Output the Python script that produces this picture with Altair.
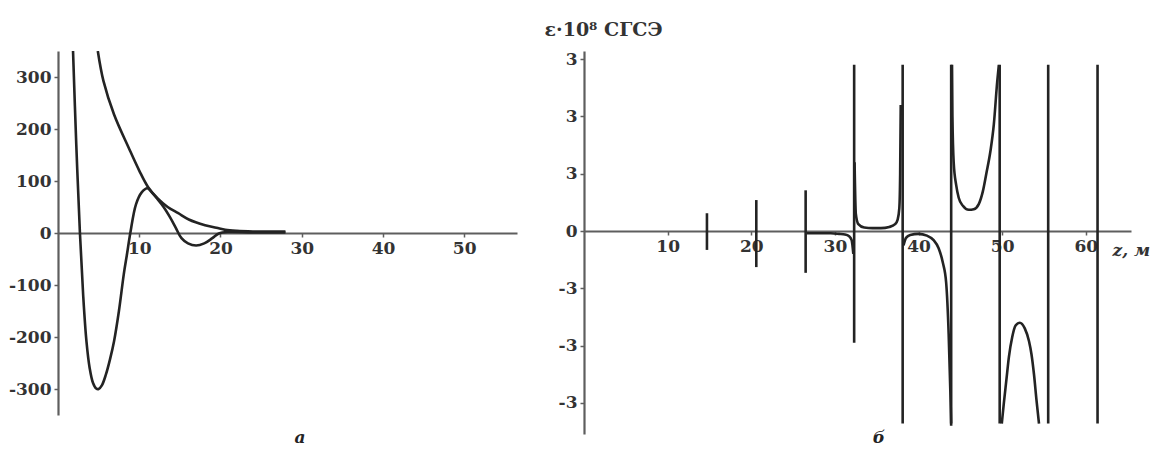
import altair as alt
import pandas as pd

# ---------- panel а ----------
env_z = [4.9, 5.6, 6.9, 8.7, 10.0, 11.1, 12.3, 13.5, 14.8, 16.1, 18.1, 19.5, 20.6, 22.0, 24.0, 28.0]
env_v = [350, 292, 228, 164, 120, 88, 66, 50, 38, 26, 15, 10, 6, 4, 3, 3]

osc_z = [1.85, 2.25, 2.7, 3.1, 3.5, 3.9, 4.3, 4.7, 5.0, 5.4, 5.9, 6.4, 6.9, 7.5, 8.1, 8.5, 8.9, 9.6, 10.3,
         11.0, 11.6, 12.3, 13.0, 13.8, 14.5, 15.2, 16.0, 17.0, 18.0, 19.0, 19.8, 21.0, 24.0, 28.0]
osc_v = [350, 170, 0, -120, -208, -260, -288, -299, -300, -293, -272, -243, -208, -150, -79, -40, 0, 55, 78,
         86, 77, 64, 50, 30, 10, -10, -20, -24, -20, -10, -1, 2, 1, 1]

left_xticks = [10, 20, 30, 40, 50]
left_yticks = [-300, -200, -100, 0, 100, 200, 300]

# ---------- panel б ----------
pole_z = [14.7, 20.6, 26.5, 32.3, 38.1, 43.9, 49.7, 55.5, 61.4]
pole_top = [0.31, 0.54, 0.71, 2.9, 2.9, 2.9, 2.9, 2.9, 2.9]
pole_bottom = [-0.33, -0.63, -0.73, -1.95, -3.36, -3.36, -3.36, -3.36, -3.36]

segA_z = [26.6, 27.5, 28.5, 29.5, 30.5, 31.2, 31.7, 32.0, 32.2]
segA_v = [-0.04, -0.04, -0.04, -0.04, -0.05, -0.06, -0.09, -0.16, -0.4]
segB_z = [32.35, 32.5, 32.8, 33.5, 34.5, 35.5, 36.5, 37.2, 37.5, 37.7, 37.8, 37.87]
segB_v = [1.2, 0.3, 0.12, 0.06, 0.05, 0.05, 0.07, 0.12, 0.2, 0.4, 1.0, 2.2]
segC_z = [38.2, 38.5, 39.0, 40.0, 41.0, 41.8, 42.4, 42.9, 43.3, 43.6, 43.8, 43.9]
segC_v = [-0.25, -0.12, -0.07, -0.05, -0.08, -0.16, -0.3, -0.55, -0.9, -1.8, -2.8, -3.4]
segD_z = [44.0, 44.05, 44.2, 44.5, 44.8, 45.3, 46.0, 46.6, 47.2, 47.7, 48.1, 48.6, 49.0, 49.4, 49.6]
segD_v = [2.9, 2.0, 1.2, 0.8, 0.58, 0.44, 0.37, 0.38, 0.47, 0.7, 1.0, 1.4, 1.86, 2.6, 2.9]
segE_z = [49.95, 50.2, 50.5, 50.8, 51.2, 51.6, 52.1, 52.7, 53.2, 53.5, 53.8, 54.1, 54.4]
segE_v = [-3.36, -3.0, -2.6, -2.2, -1.85, -1.65, -1.6, -1.7, -1.92, -2.15, -2.5, -2.95, -3.36]

right_xticks = [10, 20, 30, 40, 50, 60]
right_yticks = [-3, -2, -1, 0, 1, 2, 3]

captions = ["а", "б"]
y_title = "ε·10⁸  СГСЭ"
x_title = "z, м"

FONT = "DejaVu Serif"
INK = "#232323"
AX = "#5e5e5e"

# ---------- build left ----------
LW, LH = 459, 364
left_df = pd.concat([
    pd.DataFrame({"z": env_z, "v": env_v, "s": "env"}),
    pd.DataFrame({"z": osc_z, "v": osc_v, "s": "osc"}),
])

left_lines = alt.Chart(left_df).mark_line(
    color=INK, strokeWidth=2.6, interpolate="catmull-rom", clip=True
).encode(
    x=alt.X("z:Q", scale=alt.Scale(domain=[0, 56.5], nice=False, zero=False),
            axis=alt.Axis(values=left_xticks, offset=-182, title=None)),
    y=alt.Y("v:Q", scale=alt.Scale(domain=[-350, 350], nice=False),
            axis=alt.Axis(values=left_yticks, title=None,
                          labelExpr="datum.value < 0 ? '-' + format(-datum.value, 'd') : format(datum.value, 'd')")),
    detail="s:N",
)

left_cap = alt.Chart(pd.DataFrame({"t": [captions[0]]})).mark_text(
    font=FONT, fontStyle="italic", fontWeight="bold", fontSize=17, color=INK, baseline="middle"
).encode(text="t:N", x=alt.value(242), y=alt.value(387))

left = alt.layer(left_lines, left_cap).properties(width=LW, height=LH)

# ---------- build right ----------
RW, RH = 547, 383
zero_from_top = 180
ppu = 57.3
r_dom = [-(RH - zero_from_top) / ppu, zero_from_top / ppu]

seg_df = pd.concat([
    pd.DataFrame({"z": segA_z, "v": segA_v, "s": "A"}),
    pd.DataFrame({"z": segB_z, "v": segB_v, "s": "B"}),
    pd.DataFrame({"z": segC_z, "v": segC_v, "s": "C"}),
    pd.DataFrame({"z": segD_z, "v": segD_v, "s": "D"}),
    pd.DataFrame({"z": segE_z, "v": segE_v, "s": "E"}),
])
pole_df = pd.DataFrame({"z": pole_z, "top": pole_top, "bottom": pole_bottom})

rx = alt.X("z:Q", scale=alt.Scale(domain=[0, 65.4], nice=False, zero=False),
           axis=alt.Axis(values=right_xticks, offset=-(RH - zero_from_top), title=x_title,
                         titleX=528, titleY=24, titleAlign="left", titleBaseline="alphabetic",
                         titleFont=FONT, titleFontStyle="italic", titleFontWeight="bold",
                         titleFontSize=17, titleColor="#333"))
ry_scale = alt.Scale(domain=r_dom, nice=False)

right_poles = alt.Chart(pole_df).mark_rule(color=INK, strokeWidth=2.6).encode(
    x=rx,
    y=alt.Y("top:Q", scale=ry_scale,
            axis=alt.Axis(values=right_yticks, title=y_title, titleAngle=0,
                          titleX=-40, titleY=-16, titleAlign="left", titleBaseline="alphabetic",
                          titleFont=FONT, titleFontWeight="bold", titleFontSize=19, titleColor="#333",
                          labelExpr="datum.value > 0 ? '3' : (datum.value < 0 ? '-3' : '0')")),
    y2="bottom:Q",
)

right_lines = alt.Chart(seg_df).mark_line(
    color=INK, strokeWidth=2.6, interpolate="monotone", clip=True
).encode(
    x=alt.X("z:Q", scale=alt.Scale(domain=[0, 65.4], nice=False, zero=False)),
    y=alt.Y("v:Q", scale=ry_scale),
    detail="s:N",
)

right_cap = alt.Chart(pd.DataFrame({"t": [captions[1]]})).mark_text(
    font=FONT, fontStyle="italic", fontWeight="bold", fontSize=17, color=INK, baseline="middle"
).encode(text="t:N", x=alt.value(295), y=alt.value(387))

right = alt.layer(right_poles, right_lines, right_cap).properties(width=RW, height=RH)

chart = alt.hconcat(left, right, spacing=67, bounds="flush").properties(
    padding={"left": 0, "top": 12, "right": 0, "bottom": 0},
    background="white",
).configure_view(strokeWidth=0).configure_axis(
    grid=False,
    labelFont=FONT, labelFontWeight="bold", labelFontSize=17, labelColor="#333",
    domainColor=AX, domainWidth=2.2, tickColor=AX, tickWidth=1.5, tickSize=4, labelPadding=3,
)

chart.save("out.html", embed_options={"renderer": "svg", "actions": False})
